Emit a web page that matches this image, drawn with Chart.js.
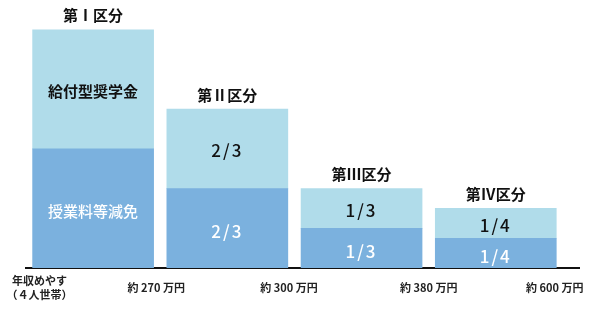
<!DOCTYPE html>
<html>
<head>
<meta charset="utf-8">
<script src="https://cdn.jsdelivr.net/npm/chart.js@4/dist/chart.umd.min.js"></script>
<style>
  html, body { margin: 0; padding: 0; background: #fff; }
  #wrap { width: 590px; height: 316px; }
</style>
</head>
<body>
<div id="wrap"><canvas id="chart" width="590" height="316"></canvas></div>
<script>
/* ===== 区分ごとの支援額 ===== */

const categories = ['第Ⅰ区分', '第Ⅱ区分', '第Ⅲ区分', '第Ⅳ区分'];

// 授業料等減免 (下段) と 給付型奨学金 (上段) の割合
const tuitionShare     = [1, 2 / 3, 1 / 3, 1 / 4];
const scholarshipShare = [1, 2 / 3, 1 / 3, 1 / 4];
const tuitionText      = ['授業料等減免', '2/3', '1/3', '1/4'];
const scholarshipText  = ['給付型奨学金', '2/3', '1/3', '1/4'];

// 年収めやすの目盛 (区分の境目)
const incomeLabels = [['年収めやす', '（４人世帯）'], '約 270 万円', '約 300 万円', '約 380 万円', '約 600 万円'];
const incomeTickAt = [-0.4, 0.47, 1.46, 2.5, 3.44];

const FONT = '"Noto Sans CJK JP", "Noto Sans", sans-serif';
const LIGHT = '#b0dcea';
const DARK  = '#7bb1de';

/** Draw section names above bars and share text inside segments */
const barText = {
  id: 'barText',
  afterDatasetsDraw(chart) {
    const ctx = chart.ctx;
    const low  = chart.getDatasetMeta(0).data;
    const high = chart.getDatasetMeta(1).data;
    ctx.save();
    ctx.textAlign = 'center';
    ctx.textBaseline = 'middle';
    categories.forEach((name, i) => {
      const lo = low[i], hi = high[i];
      // section name
      ctx.font = 'bold 15px ' + FONT;
      ctx.fillStyle = '#111';
      ctx.letterSpacing = '0px';
      ctx.fillText(name, hi.x, hi.y - 14);

      const big = i === 0;
      ctx.letterSpacing = big ? '0px' : '2px';
      // upper segment (black text)
      ctx.font = (big ? 'bold 15px ' : '500 17px ') + FONT;
      ctx.fillStyle = '#111';
      ctx.fillText(scholarshipText[i], hi.x, (hi.y + hi.base) / 2 + 2);
      // lower segment (white text)
      ctx.font = (big ? '500 15px ' : '500 17px ') + FONT;
      ctx.fillStyle = '#fff';
      ctx.fillText(tuitionText[i], lo.x, (lo.y + lo.base) / 2 + 3);
    });
    ctx.restore();
  }
};

new Chart(document.getElementById('chart').getContext('2d'), {
  type: 'bar',
  data: {
    datasets: [{
      label: '授業料等減免',
      data: tuitionShare.map((v, i) => ({ x: i, y: v })),
      backgroundColor: DARK,
      barThickness: 121
    }, {
      label: '給付型奨学金',
      data: scholarshipShare.map((v, i) => ({ x: i, y: v })),
      backgroundColor: LIGHT,
      barThickness: 121
    }]
  },
  options: {
    responsive: false,
    animation: false,
    layout: { padding: { left: 26, right: 11, top: 0, bottom: 0 } },
    plugins: {
      legend: { display: false },
      tooltip: { enabled: false }
    },
    scales: {
      x: {
        type: 'linear',
        stacked: true,
        offset: false,
        min: -0.5,
        max: 3.62,
        grid: { display: false, drawTicks: false },
        border: { display: true, color: '#111', width: 2 },
        afterBuildTicks: scale => {
          scale.ticks = incomeTickAt.map(v => ({ value: v }));
        },
        afterFit: scale => {
          scale.height = 48;
          scale.paddingLeft = 0;
          scale.paddingRight = 0;
        },
        ticks: {
          autoSkip: false,
          maxRotation: 0,
          padding: 13,
          crossAlign: 'center',
          color: '#222',
          font: { family: FONT, size: 11, weight: 'bold', lineHeight: 1.25 },
          callback: (value, index) => incomeLabels[index]
        }
      },
      y: {
        stacked: true,
        display: false,
        min: 0,
        max: 2.25
      }
    }
  },
  plugins: [barText]
});
</script>
</body>
</html>
